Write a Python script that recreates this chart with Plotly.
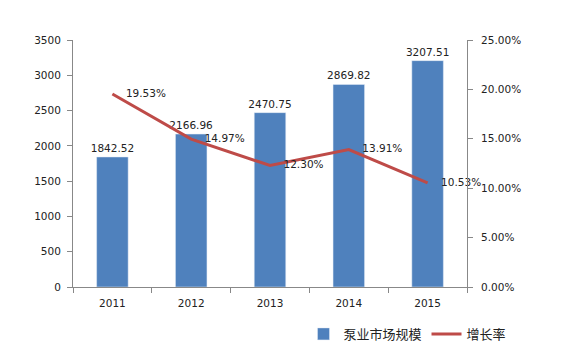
import plotly.graph_objects as go

years = ["2011", "2012", "2013", "2014", "2015"]
market = [1842.52, 2166.96, 2470.75, 2869.82, 3207.51]
growth = [0.1953, 0.1497, 0.1230, 0.1391, 0.1053]
market_labels = ["1842.52", "2166.96", "2470.75", "2869.82", "3207.51"]
growth_labels = ["19.53%", "14.97%", "12.30%", "13.91%", "10.53%"]

font = dict(family="DejaVu Sans, Verdana, sans-serif", size=10.5, color="#222222")

fig = go.Figure()
fig.add_trace(go.Bar(
    x=years, y=market, name="泵业市场规模",
    marker_color="#4F81BD", width=0.4,
    text=market_labels, textposition="outside", cliponaxis=False,
    constraintext="none", textfont=font,
))
fig.add_trace(go.Scatter(
    x=years, y=growth, name="增长率", yaxis="y2",
    mode="lines+markers+text", line=dict(color="#BE4B48", width=3),
    marker=dict(size=20, color="rgba(0,0,0,0)"),
    text=growth_labels, textposition="middle right",
    textfont=font, cliponaxis=False,
))

axis_common = dict(showline=True, linecolor="#888888", linewidth=1,
                   ticks="outside", ticklen=5, tickcolor="#888888",
                   showgrid=False, zeroline=False, tickfont=font)

fig.update_layout(
    width=570, height=352,
    margin=dict(l=73, r=103, t=40, b=65, autoexpand=False),
    paper_bgcolor="white", plot_bgcolor="white",
    font=font,
    xaxis=dict(**axis_common, tickson="boundaries", ticklabelstandoff=6),
    yaxis=dict(**axis_common, range=[0, 3500], dtick=500, ticklabelstandoff=4),
    yaxis2=dict(**axis_common, range=[0, 0.25], dtick=0.05, tickformat=".2%",
                overlaying="y", side="right", ticklabelstandoff=6),
    showlegend=True,
    legend=dict(orientation="h", x=0.585, xanchor="left", y=-0.19, yanchor="middle",
                font=dict(family="Noto Sans CJK SC, DejaVu Sans", size=13, color="#222222"),
                itemwidth=30, bgcolor="rgba(0,0,0,0)"),
)

fig.write_html("out.html")
